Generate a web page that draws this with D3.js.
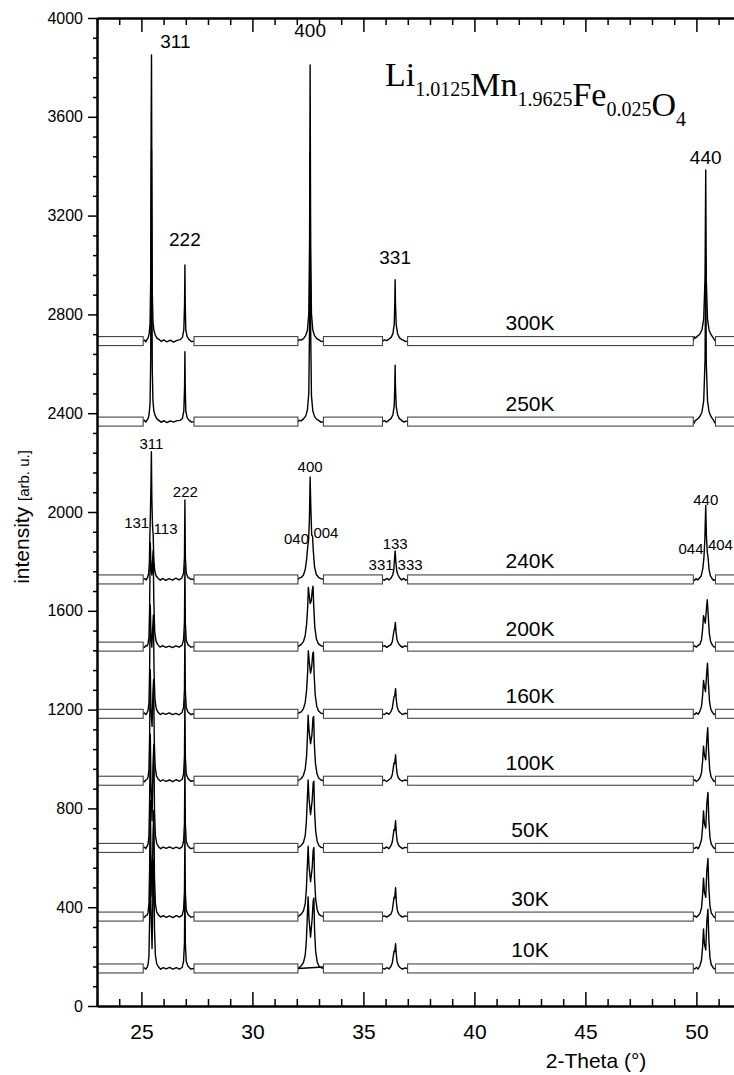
<!DOCTYPE html>
<html lang="en">
<head>
<meta charset="UTF-8">
<title>XRD patterns Li1.0125Mn1.9625Fe0.025O4</title>
<script src="https://d3js.org/d3.v7.min.js"></script>
<style>
    body { margin: 0; background: #fff; }
    svg { display: block; font-family: "Liberation Sans", Arial, sans-serif; }
    .axis .domain { stroke: #000; stroke-width: 2; }
    .axis line { stroke: #000; stroke-width: 1.5; }
    .axis text { fill: #000; }
    .trace { fill: none; stroke: #000; stroke-width: 1.4; stroke-linejoin: round; }
    .gap { fill: #fff; stroke: #444; stroke-width: 1.1; }
</style>
</head>
<body>
<svg width="734" height="1075"></svg>
<script>
// temperatures, top to bottom, with the vertical offset of each scan
const temps = ["300K", "250K", "240K", "200K", "160K", "100K", "50K", "30K", "10K"];
const baselines = [2692, 2366, 1727, 1455, 1183, 912, 640, 362, 152];

// 2-theta ranges that are blanked out with boxes
const gaps = [[22.9, 25.08], [27.37, 32.05], [33.2, 35.86], [36.99, 49.86], [50.86, 53]];

// scan windows: [2-theta, counts above the baseline]
const t300 = [
    [[25.08,0],[25.15,4],[25.2,-3],[25.25,6],[25.3,12],[25.35,30],[25.39,70],[25.42,250],[25.44,900],[25.455,1158],[25.47,700],[25.49,200],[25.52,80],[25.56,45],[25.62,25],[25.7,12],[25.8,6],[25.9,-2],[26.0,5],[26.15,-3],[26.3,4],[26.45,-4],[26.6,3],[26.75,6],[26.85,15],[26.91,45],[26.945,150],[26.96,308],[26.975,150],[27.0,45],[27.06,18],[27.15,6],[27.25,-2],[27.37,0]],
    [[32.05,0],[32.12,6],[32.2,4],[32.3,10],[32.4,22],[32.48,45],[32.54,110],[32.575,400],[32.6,1118],[32.625,380],[32.66,110],[32.72,45],[32.8,22],[32.9,10],[33.0,5],[33.1,-2],[33.2,0]],
    [[35.86,0],[35.95,5],[36.05,2],[36.15,8],[36.25,15],[36.33,30],[36.39,70],[36.415,160],[36.43,248],[36.445,150],[36.48,65],[36.54,30],[36.62,14],[36.72,6],[36.82,3],[36.9,-2],[36.99,0]],
    [[49.86,0],[49.9,18],[49.95,12],[50.05,20],[50.15,28],[50.25,45],[50.33,90],[50.39,260],[50.42,693],[50.445,250],[50.5,90],[50.57,45],[50.65,28],[50.72,18],[50.78,10],[50.82,5],[50.86,0]]
];
const t250 = [
    [[25.08,0],[25.14,5],[25.2,-2],[25.26,7],[25.31,14],[25.35,32],[25.39,75],[25.42,260],[25.44,860],[25.455,1100],[25.47,680],[25.49,210],[25.52,85],[25.56,44],[25.62,24],[25.7,11],[25.8,4],[25.9,-3],[26.0,4],[26.15,-4],[26.3,3],[26.45,-2],[26.6,4],[26.75,5],[26.85,14],[26.91,42],[26.945,140],[26.96,283],[26.975,140],[27.0,42],[27.06,16],[27.15,5],[27.26,-2],[27.37,0]],
    [[32.05,0],[32.12,5],[32.2,3],[32.3,11],[32.4,22],[32.48,48],[32.54,115],[32.575,390],[32.6,1090],[32.625,370],[32.66,105],[32.72,44],[32.8,20],[32.9,9],[33.0,4],[33.1,-3],[33.2,0]],
    [[35.86,0],[35.95,4],[36.05,-2],[36.15,6],[36.25,13],[36.33,28],[36.39,66],[36.415,150],[36.43,228],[36.445,140],[36.48,60],[36.54,28],[36.62,12],[36.72,5],[36.82,-2],[36.9,2],[36.99,0]],
    [[49.86,0],[49.9,-6],[49.95,4],[50.05,10],[50.15,20],[50.25,38],[50.33,85],[50.39,250],[50.42,670],[50.445,240],[50.5,85],[50.57,40],[50.65,22],[50.72,12],[50.78,4],[50.82,-5],[50.86,0]]
];
const t240 = [
    [[25.08,0],[25.15,3],[25.22,-2],[25.28,8],[25.33,25],[25.36,70],[25.38,170],[25.40,240],[25.43,380],[25.45,517],[25.47,330],[25.5,220],[25.53,180],[25.56,80],[25.6,35],[25.66,15],[25.75,5],[25.85,-3],[25.95,4],[26.1,-4],[26.25,3],[26.4,-3],[26.55,5],[26.7,-2],[26.82,6],[26.9,25],[26.94,90],[26.96,322],[26.98,90],[27.02,25],[27.1,8],[27.2,2],[27.37,0]],
    [[32.05,0],[32.1,5],[32.2,8],[32.3,18],[32.38,40],[32.44,80],[32.49,130],[32.53,160],[32.57,250],[32.6,415],[32.63,300],[32.67,180],[32.71,175],[32.74,120],[32.8,50],[32.88,20],[32.98,8],[33.08,3],[33.2,0]],
    [[35.86,0],[35.95,-3],[36.05,4],[36.15,-2],[36.25,6],[36.32,18],[36.37,40],[36.4,80],[36.43,115],[36.46,75],[36.5,35],[36.55,20],[36.62,8],[36.72,-2],[36.82,4],[36.9,-3],[36.99,0]],
    [[49.86,0],[49.92,-4],[49.98,3],[50.06,-2],[50.14,6],[50.22,15],[50.29,45],[50.34,90],[50.38,160],[50.42,300],[50.45,180],[50.49,110],[50.53,85],[50.57,40],[50.63,15],[50.7,4],[50.78,-4],[50.86,0]]
];
const t200 = [
    [[25.08,0],[25.14,-3],[25.2,4],[25.26,2],[25.3,12],[25.34,40],[25.37,150],[25.40,420],[25.43,330],[25.47,290],[25.51,360],[25.53,390],[25.56,180],[25.6,60],[25.66,22],[25.74,8],[25.84,-2],[25.95,4],[26.1,-3],[26.25,2],[26.4,-4],[26.55,3],[26.7,-2],[26.83,6],[26.9,28],[26.94,100],[26.96,330],[26.98,95],[27.02,26],[27.1,8],[27.22,-2],[27.37,0]],
    [[32.05,0],[32.12,4],[32.2,9],[32.3,20],[32.38,45],[32.44,90],[32.49,160],[32.52,240],[32.55,215],[32.6,175],[32.65,185],[32.7,230],[32.73,245],[32.76,170],[32.81,80],[32.88,32],[32.97,12],[33.08,4],[33.2,0]],
    [[35.86,0],[35.95,4],[36.05,-3],[36.15,3],[36.24,8],[36.3,20],[36.35,48],[36.38,65],[36.41,75],[36.44,98],[36.47,60],[36.51,30],[36.57,14],[36.65,5],[36.75,-3],[36.86,3],[36.99,0]],
    [[49.86,0],[49.92,3],[50.0,-2],[50.08,5],[50.16,10],[50.23,28],[50.28,70],[50.32,125],[50.35,115],[50.4,95],[50.45,150],[50.49,190],[50.53,130],[50.58,55],[50.64,20],[50.72,6],[50.8,-2],[50.86,0]]
];
const t160 = [
    [[25.08,0],[25.14,3],[25.2,-3],[25.26,5],[25.3,14],[25.34,45],[25.37,170],[25.40,440],[25.43,320],[25.47,270],[25.51,350],[25.54,400],[25.57,170],[25.61,58],[25.67,20],[25.75,6],[25.85,-3],[25.96,3],[26.1,-2],[26.25,4],[26.4,-3],[26.55,2],[26.7,-4],[26.83,5],[26.9,26],[26.94,96],[26.96,335],[26.98,92],[27.02,25],[27.1,7],[27.22,-3],[27.37,0]],
    [[32.05,0],[32.12,5],[32.2,8],[32.3,21],[32.38,46],[32.44,95],[32.49,170],[32.52,255],[32.56,210],[32.62,165],[32.67,190],[32.72,245],[32.75,250],[32.78,160],[32.83,75],[32.9,30],[32.98,11],[33.08,3],[33.2,0]],
    [[35.86,0],[35.95,-3],[36.05,4],[36.15,-2],[36.24,9],[36.3,22],[36.35,52],[36.38,70],[36.41,72],[36.45,102],[36.48,58],[36.52,28],[36.58,12],[36.66,4],[36.76,-3],[36.87,2],[36.99,0]],
    [[49.86,0],[49.92,-3],[50.0,4],[50.08,-2],[50.16,11],[50.23,30],[50.28,75],[50.32,135],[50.36,110],[50.41,90],[50.46,160],[50.5,205],[50.54,125],[50.59,50],[50.65,18],[50.73,5],[50.8,-3],[50.86,0]]
];
const t100 = [
    [[25.08,0],[25.14,-4],[25.2,3],[25.26,6],[25.3,15],[25.34,48],[25.37,180],[25.40,450],[25.43,290],[25.48,220],[25.52,360],[25.55,410],[25.58,160],[25.62,55],[25.68,19],[25.76,6],[25.86,-2],[25.97,4],[26.1,-3],[26.26,3],[26.41,-4],[26.56,4],[26.71,-2],[26.84,6],[26.9,27],[26.94,98],[26.96,330],[26.98,94],[27.02,27],[27.1,9],[27.22,-2],[27.37,0]],
    [[32.05,0],[32.12,4],[32.2,9],[32.3,22],[32.38,48],[32.44,100],[32.48,180],[32.51,265],[32.55,205],[32.62,150],[32.68,185],[32.73,255],[32.76,260],[32.79,150],[32.84,70],[32.91,28],[32.99,10],[33.09,3],[33.2,0]],
    [[35.86,0],[35.95,3],[36.05,-3],[36.15,4],[36.24,10],[36.3,24],[36.35,55],[36.38,72],[36.41,70],[36.45,105],[36.48,60],[36.52,27],[36.58,11],[36.66,3],[36.76,-2],[36.87,3],[36.99,0]],
    [[49.86,0],[49.92,4],[50.0,-3],[50.08,3],[50.16,12],[50.23,32],[50.28,80],[50.32,140],[50.36,105],[50.42,85],[50.47,170],[50.51,215],[50.55,120],[50.6,45],[50.66,16],[50.74,4],[50.8,-3],[50.86,0]]
];
const t50 = [
    [[25.08,0],[25.14,3],[25.2,-2],[25.26,7],[25.3,16],[25.34,50],[25.37,190],[25.40,460],[25.43,260],[25.48,110],[25.52,330],[25.56,420],[25.59,150],[25.63,50],[25.69,18],[25.77,5],[25.87,-3],[25.98,3],[26.12,-2],[26.27,4],[26.42,-3],[26.57,3],[26.72,-3],[26.84,5],[26.9,28],[26.94,100],[26.96,340],[26.98,96],[27.02,26],[27.1,8],[27.22,-3],[27.37,0]],
    [[32.05,0],[32.12,5],[32.2,10],[32.3,22],[32.38,50],[32.43,105],[32.47,190],[32.51,275],[32.55,200],[32.62,135],[32.69,190],[32.74,265],[32.77,270],[32.8,150],[32.85,68],[32.92,26],[33.0,9],[33.1,2],[33.2,0]],
    [[35.86,0],[35.95,-2],[36.05,4],[36.15,-3],[36.24,9],[36.3,24],[36.35,56],[36.38,75],[36.41,72],[36.45,110],[36.48,62],[36.52,28],[36.58,12],[36.66,4],[36.76,-3],[36.87,2],[36.99,0]],
    [[49.86,0],[49.92,-2],[50.0,3],[50.08,-3],[50.16,12],[50.23,34],[50.28,85],[50.32,150],[50.36,100],[50.42,80],[50.47,180],[50.52,225],[50.56,115],[50.61,42],[50.67,15],[50.75,4],[50.81,-2],[50.86,0]]
];
const t30 = [
    [[25.08,0],[25.14,-3],[25.2,4],[25.26,6],[25.3,17],[25.34,52],[25.37,195],[25.40,470],[25.43,250],[25.48,82],[25.52,320],[25.56,430],[25.59,155],[25.63,52],[25.69,18],[25.77,6],[25.87,-2],[25.98,4],[26.12,-3],[26.27,3],[26.42,-4],[26.57,4],[26.72,-2],[26.84,6],[26.9,29],[26.94,102],[26.96,345],[26.98,98],[27.02,27],[27.1,8],[27.22,-2],[27.37,0]],
    [[32.05,0],[32.12,4],[32.2,10],[32.3,23],[32.38,52],[32.43,110],[32.47,195],[32.51,285],[32.55,205],[32.62,141],[32.69,195],[32.74,270],[32.77,280],[32.8,155],[32.85,70],[32.92,27],[33.0,9],[33.1,3],[33.2,0]],
    [[35.86,0],[35.95,3],[36.05,-2],[36.15,4],[36.24,10],[36.3,25],[36.35,58],[36.38,78],[36.41,75],[36.45,117],[36.48,64],[36.52,29],[36.58,12],[36.66,4],[36.76,-2],[36.87,3],[36.99,0]],
    [[49.86,0],[49.92,3],[50.0,-3],[50.08,4],[50.16,13],[50.23,35],[50.28,88],[50.32,155],[50.36,100],[50.42,78],[50.47,185],[50.52,235],[50.56,118],[50.61,43],[50.67,15],[50.75,4],[50.81,-3],[50.86,0]]
];
const t10 = [
    [[25.08,0],[25.14,2],[25.2,-3],[25.26,5],[25.3,16],[25.34,50],[25.37,200],[25.40,480],[25.43,245],[25.48,81],[25.52,315],[25.56,440],[25.59,160],[25.63,54],[25.69,19],[25.77,6],[25.87,-3],[25.98,3],[26.12,-2],[26.27,4],[26.42,-3],[26.57,3],[26.72,-3],[26.84,5],[26.9,30],[26.94,104],[26.96,350],[26.98,100],[27.02,28],[27.1,9],[27.22,-2],[27.37,0]],
    [[32.05,0],[32.12,4],[32.2,11],[32.3,24],[32.38,54],[32.43,112],[32.47,200],[32.51,290],[32.55,200],[32.62,127],[32.69,200],[32.74,275],[32.77,285],[32.8,155],[32.85,68],[32.92,26],[33.0,9],[33.1,3],[33.2,0]],
    [[35.86,0],[35.95,-3],[36.05,3],[36.15,-2],[36.24,8],[36.3,22],[36.35,52],[36.38,70],[36.41,68],[36.45,100],[36.48,58],[36.52,26],[36.58,11],[36.66,3],[36.76,-3],[36.87,2],[36.99,0]],
    [[49.86,0],[49.92,-2],[50.0,4],[50.08,-2],[50.16,12],[50.23,34],[50.28,88],[50.32,160],[50.36,100],[50.42,75],[50.47,190],[50.52,240],[50.56,120],[50.61,44],[50.67,15],[50.75,4],[50.81,-2],[50.86,0]],
    [[32.05,0],[33.2,6]]  // straight background line under the 400 doublet
];
const scans = [t300, t250, t240, t200, t160, t100, t50, t30, t10];

// reflection labels: [text, 2-theta anchor, y in counts, anchor, size]
const cubicLabels = [
    ["311", 25.85, 3880, "start", 19],
    ["222", 26.96, 3075, "middle", 19],
    ["400", 32.6, 3925, "middle", 19],
    ["331", 36.43, 3005, "middle", 19],
    ["440", 50.42, 3410, "middle", 19]
];
const splitLabels = [
    ["311", 25.45, 2255, "middle", 15],
    ["131", 25.35, 1935, "end", 15],
    ["113", 25.55, 1910, "start", 15],
    ["222", 26.98, 2060, "middle", 15],
    ["400", 32.6, 2160, "middle", 15],
    ["040", 32.55, 1870, "end", 15],
    ["004", 32.75, 1895, "start", 15],
    ["133", 36.43, 1850, "middle", 15],
    ["331", 36.36, 1765, "end", 15],
    ["333", 36.54, 1765, "start", 15],
    ["440", 50.42, 2030, "middle", 15],
    ["044", 50.32, 1830, "end", 15],
    ["404", 50.52, 1845, "start", 15]
];

const xMajor = [25, 30, 35, 40, 45, 50];
const xMinor = d3.range(23, 53).filter(d => d % 5 !== 0);
const yMajor = d3.range(0, 4001, 400);
const yMinor = d3.range(0, 4001, 80).filter(d => d % 400 !== 0);

const svg = d3.select("svg");
const x = d3.scaleLinear().domain([23, 52]).range([97, 740.8]);
const y = d3.scaleLinear().domain([0, 4000]).range([1006, 18]);

svg.append("clipPath").attr("id", "plot")
    .append("rect").attr("x", 97).attr("y", 18).attr("width", 640).attr("height", 988);

const plot = svg.append("g").attr("clip-path", "url(#plot)");

const line = d3.line().x(d => x(d[0])).y(d => y(d[1]));

// draw from the bottom scan up
for (let i = scans.length - 1; i >= 0; i--) {
    const base = baselines[i];
    scans[i].forEach(win => {
        plot.append("path")
            .attr("class", "trace")
            .attr("d", line(win.map(p => [p[0], p[1] + base])));
    });
    plot.selectAll(null)
        .data(gaps)
        .enter().append("rect")
        .attr("class", "gap")
        .attr("x", d => x(d[0]))
        .attr("width", d => x(d[1]) - x(d[0]))
        .attr("y", y(base) - 4.5)
        .attr("height", 9);
    svg.append("text")
        .attr("x", 530)
        .attr("y", y(base) - 11)
        .attr("text-anchor", "middle")
        .style("font-size", "21px")
        .text(temps[i]);
}

// reflection labels
cubicLabels.concat(splitLabels).forEach(l => {
    svg.append("text")
        .attr("x", x(l[1]))
        .attr("y", y(l[2]))
        .attr("text-anchor", l[3])
        .style("font-size", l[4] + "px")
        .text(l[0]);
});

// axes
svg.append("g").attr("class", "axis")
    .attr("transform", "translate(0,1006)")
    .call(d3.axisBottom(x).tickValues(xMinor).tickSize(-7).tickSizeOuter(0).tickFormat(""));
svg.append("g").attr("class", "axis")
    .attr("transform", "translate(0,1006)")
    .call(d3.axisBottom(x).tickValues(xMajor).tickSize(-14).tickSizeOuter(0).tickPadding(18))
    .selectAll("text").style("font-size", "21px");

svg.append("g").attr("class", "axis")
    .attr("transform", "translate(0,18)")
    .call(d3.axisTop(x).tickValues(xMinor).tickSize(-7).tickSizeOuter(0).tickFormat(""));
svg.append("g").attr("class", "axis")
    .attr("transform", "translate(0,18)")
    .call(d3.axisTop(x).tickValues(xMajor).tickSize(-14).tickSizeOuter(0).tickFormat(""));

svg.append("g").attr("class", "axis")
    .attr("transform", "translate(97,0)")
    .call(d3.axisLeft(y).tickValues(yMinor).tickSize(4).tickSizeOuter(0).tickFormat(""));
svg.append("g").attr("class", "axis")
    .attr("transform", "translate(97,0)")
    .call(d3.axisLeft(y).tickValues(yMajor).tickSize(9).tickSizeOuter(0).tickPadding(5).tickFormat(d3.format("d")))
    .selectAll("text").style("font-size", "16px");

// axis titles
svg.append("text")
    .attr("x", 596)
    .attr("y", 1068)
    .attr("text-anchor", "middle")
    .style("font-size", "21px")
    .text("2-Theta (°)");

const yTitle = svg.append("text")
    .attr("transform", "translate(29,517) rotate(-90)")
    .attr("text-anchor", "middle");
yTitle.append("tspan").style("font-size", "21px").text("intensity ");
yTitle.append("tspan").style("font-size", "15px").text("[arb. u.]");

// compound formula
const formula = [["Li", "1.0125"], ["Mn", "1.9625"], ["Fe", "0.025"], ["O", "4"]];
const title = svg.append("text")
    .attr("x", 385)
    .attr("y", 86)
    .style("font-family", "'Liberation Serif', 'Times New Roman', serif")
    .style("font-size", "34px");
formula.forEach(f => {
    title.append("tspan").text(f[0]);
    title.append("tspan").attr("dy", 10).style("font-size", "20px").text(f[1]);
    title.append("tspan").attr("dy", -10).text("");
});
</script>
</body>
</html>
